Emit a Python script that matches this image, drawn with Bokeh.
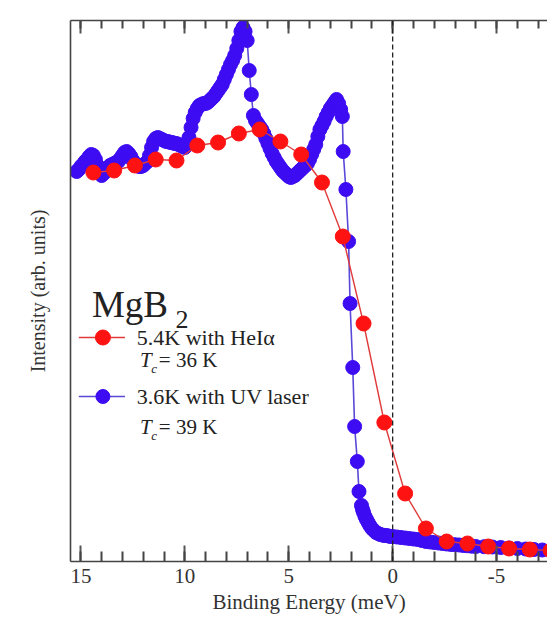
from bokeh.plotting import figure
from bokeh.models import Range1d, LinearAxis, SingleIntervalTicker, FixedTicker, Span, Label
from bokeh.embed import file_html
from bokeh.resources import INLINE

# ---- data ----
red_energy = [14.4, 13.4, 12.4, 11.4, 10.4, 9.4, 8.4, 7.4, 6.4, 5.4, 4.4, 3.4, 2.4, 1.4,
              0.4, -0.6, -1.6, -2.6, -3.6, -4.6, -5.6, -6.6, -7.6]
red_intensity = [3.89, 3.91, 3.96, 4.02, 4.01, 4.16, 4.19, 4.28, 4.32, 4.20, 4.07, 3.79, 3.25, 2.38,
                 1.39, 0.68, 0.33, 0.20, 0.18, 0.15, 0.13, 0.12, 0.11]

blue_energy = [15.2, 15.1, 15.0, 14.9, 14.8, 14.7, 14.6, 14.5, 14.4, 14.3, 14.2, 14.1, 14.0,
               13.9, 13.8, 13.7, 13.6, 13.5, 13.4, 13.3, 13.2, 13.1, 13.0, 12.9, 12.8, 12.7,
               12.6, 12.5, 12.4, 12.3, 12.2, 12.1, 12.0, 11.9, 11.8, 11.7, 11.6, 11.5, 11.4,
               11.3, 11.2, 11.1, 11.0, 10.9, 10.8, 10.7, 10.6, 10.5, 10.4, 10.3, 10.2, 10.1,
               10.0, 9.9, 9.8, 9.7, 9.6, 9.5, 9.4, 9.3, 9.2, 9.1, 9.0, 8.9, 8.8, 8.7, 8.6,
               8.5, 8.4, 8.3, 8.2, 8.1, 8.0, 7.9, 7.8, 7.7, 7.6, 7.5, 7.4, 7.3, 7.2, 7.1,
               7.0, 6.9, 6.8, 6.7, 6.6, 6.5, 6.4, 6.3, 6.2, 6.1, 6.0, 5.9, 5.8, 5.7, 5.6,
               5.5, 5.4, 5.3, 5.2, 5.1, 5.0, 4.9, 4.8, 4.7, 4.6, 4.5, 4.4, 4.3, 4.2, 4.1,
               4.0, 3.9, 3.8, 3.7, 3.6, 3.5, 3.4, 3.3, 3.2, 3.1, 3.0, 2.9, 2.8, 2.7, 2.6,
               2.5, 2.42, 2.38, 2.25, 2.12, 2.05, 1.92, 1.83, 1.70, 1.62, 1.50, 1.45, 1.40,
               1.33, 1.26, 1.18, 1.10, 1.0, 0.9, 0.8, 0.7, 0.6, 0.5, 0.4, 0.3, 0.2, 0.1, 0.0,
               -0.2, -0.4, -0.6, -0.8, -1.0, -1.2, -1.4, -1.6, -1.8, -2.0, -2.2, -2.4, -2.6,
               -2.8, -3.0, -3.2, -3.4, -3.6, -3.8, -4.0, -4.4, -4.8, -5.2, -5.6, -6.0, -6.4,
               -6.8, -7.2, -7.6, -8.0]
blue_intensity = [3.90, 3.92, 3.95, 3.97, 4.00, 4.02, 4.05, 4.07, 4.06, 4.02, 3.96, 3.90, 3.86,
                  3.88, 3.91, 3.94, 3.96, 3.97, 3.98, 3.99, 4.00, 4.03, 4.06, 4.09, 4.10, 4.08,
                  4.05, 4.01, 3.98, 3.96, 3.95, 3.95, 3.96, 3.98, 4.00, 4.06, 4.14, 4.20, 4.23,
                  4.24, 4.23, 4.22, 4.21, 4.20, 4.20, 4.19, 4.19, 4.18, 4.18, 4.17, 4.16, 4.15,
                  4.14, 4.16, 4.24, 4.34, 4.43, 4.49, 4.53, 4.56, 4.57, 4.58, 4.58, 4.59, 4.61, 4.63, 4.65,
                  4.68, 4.71, 4.74, 4.77, 4.82, 4.87, 4.92, 4.97, 5.01, 5.06, 5.13, 5.21, 5.30, 5.34, 5.30,
                  5.21, 4.91, 4.67, 4.46, 4.41, 4.38, 4.35, 4.32, 4.28, 4.23, 4.18, 4.13, 4.08, 4.04, 4.00,
                  3.97, 3.94, 3.91, 3.89, 3.87, 3.85, 3.84, 3.85, 3.86, 3.88, 3.90, 3.92, 3.94, 3.96, 3.98,
                  4.02, 4.07, 4.12, 4.17, 4.25, 4.32, 4.36, 4.40, 4.45, 4.49, 4.53, 4.56, 4.59, 4.62, 4.58,
                  4.52, 4.45, 4.10, 3.72, 3.20, 2.58, 1.94, 1.35, 1.00, 0.70, 0.56, 0.52, 0.49,
                  0.45, 0.42, 0.39, 0.36, 0.33, 0.31, 0.29, 0.28, 0.27, 0.265, 0.26, 0.26, 0.255, 0.25, 0.25,
                  0.245, 0.24, 0.235, 0.23, 0.225, 0.22, 0.21, 0.20, 0.195, 0.19, 0.185, 0.18, 0.175,
                  0.17, 0.168, 0.165, 0.16, 0.157, 0.153, 0.15, 0.148, 0.145, 0.14, 0.135, 0.13, 0.125,
                  0.12, 0.115, 0.11, 0.11]

RED = "#ff1212"
RED_LINE = "#e03a3a"
BLUE = "#3d0cf2"
BLUE_LINE = "#5a48d8"
SERIF = "Liberation Serif"

p = figure(width=547, height=619, output_backend="svg", toolbar_location=None,
           x_range=Range1d(15.5, -7.45), y_range=Range1d(0, 5.41),
           x_axis_location=None, y_axis_location=None,
           min_border_left=70, min_border_right=0, min_border_top=20, min_border_bottom=58)
p.outline_line_color = None
p.grid.visible = False
p.background_fill_color = "white"
p.border_fill_color = "white"

def style_x(ax, labels):
    ax.ticker = SingleIntervalTicker(interval=5, num_minor_ticks=5)
    ax.axis_line_color = "#444444"
    ax.axis_line_width = 1.6
    ax.major_tick_line_color = "#555555"
    ax.minor_tick_line_color = "#444444"
    ax.major_tick_line_width = 2
    ax.minor_tick_line_width = 2
    ax.major_tick_out = 0
    ax.minor_tick_out = 0
    if labels:
        ax.major_tick_in = 16
        ax.minor_tick_in = 10
        ax.major_label_text_font = SERIF
        ax.major_label_text_font_size = "21px"
        ax.major_label_text_color = "#333333"
        ax.major_label_standoff = 7
        ax.major_label_overrides = {-5: "-5"}
        ax.axis_label = "Binding Energy (meV)"
        ax.axis_label_text_font = SERIF
        ax.axis_label_text_font_style = "normal"
        ax.axis_label_text_font_size = "21px"
        ax.axis_label_text_color = "#333333"
        ax.axis_label_standoff = 4
    else:
        ax.major_tick_in = 13
        ax.minor_tick_in = 8
        ax.major_label_text_font_size = "0px"
        ax.major_label_standoff = 0

bottom = LinearAxis()
style_x(bottom, True)
p.add_layout(bottom, "below")
top = LinearAxis()
style_x(top, False)
p.add_layout(top, "above")

left = LinearAxis(ticker=FixedTicker(ticks=[]))
left.axis_line_color = "#444444"
left.axis_line_width = 1.6
left.major_tick_in = 0
left.major_tick_out = 0
left.minor_tick_in = 0
left.minor_tick_out = 0
left.axis_label = "Intensity (arb. units)"
left.axis_label_text_font = SERIF
left.axis_label_text_font_style = "normal"
left.axis_label_text_font_size = "20px"
left.axis_label_text_color = "#333333"
left.axis_label_standoff = 22
p.add_layout(left, "left")

p.add_layout(Span(location=0, dimension="height", line_color="#222222",
                  line_width=1.3, line_dash="5 3"))

# data
p.line(blue_energy, blue_intensity, line_color=BLUE_LINE, line_width=1.6)
p.scatter(blue_energy, blue_intensity, size=14, fill_color=BLUE, line_color=BLUE)
p.line(red_energy, red_intensity, line_color=RED_LINE, line_width=1.4)
p.scatter(red_energy, red_intensity, size=15, fill_color=RED, line_color=RED)

# legend keys (layout positions)
p.line([15.1, 12.88], [2.24, 2.24], line_color=RED_LINE, line_width=1.4)
p.scatter([13.94], [2.24], size=15, fill_color=RED, line_color=RED)
p.line([15.1, 12.88], [1.65, 1.65], line_color=BLUE_LINE, line_width=1.6)
p.scatter([13.94], [1.65], size=14, fill_color=BLUE, line_color=BLUE)

def lab(x, y, t, size, style="normal", baseline="middle"):
    p.add_layout(Label(x=x, y=y, text=t, text_font=SERIF, text_font_size=size,
                       text_font_style=style, text_color="#222222",
                       text_align="left", text_baseline=baseline))

lab(14.47, 2.57, "MgB", "37px", baseline="alphabetic")
lab(10.45, 2.42, "2", "26px", baseline="alphabetic")
lab(12.31, 2.24, "5.4K with HeIα", "22px")
lab(12.16, 2.02, "T", "21px", "italic")
lab(11.62, 1.93, "c", "13px", "italic")
lab(11.25, 2.02, "= 36 K", "21px")
lab(12.31, 1.65, "3.6K with UV laser", "22px")
lab(12.16, 1.35, "T", "21px", "italic")
lab(11.62, 1.26, "c", "13px", "italic")
lab(11.25, 1.35, "= 39 K", "21px")

open("out.html", "w").write(file_html(p, INLINE))
